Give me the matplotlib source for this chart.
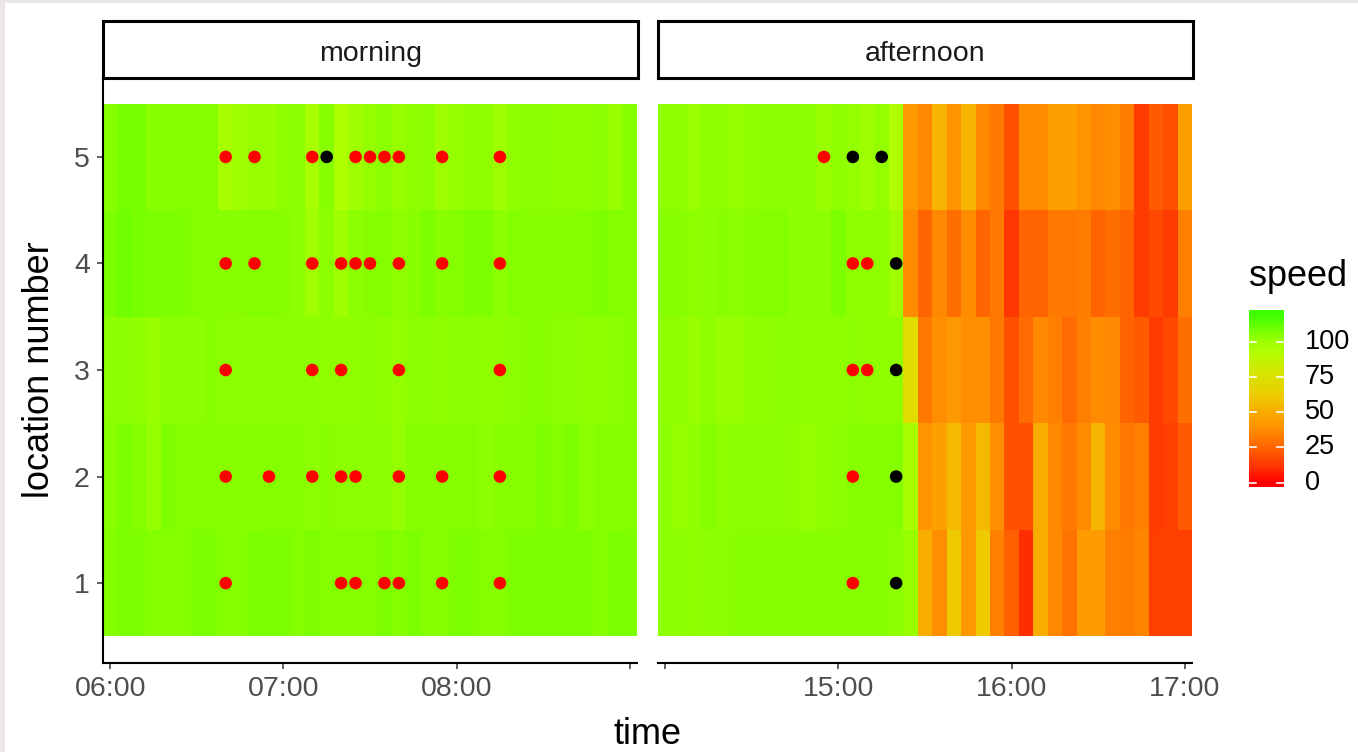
#!/usr/bin/env python3

"""Speed heatmap per location, morning vs afternoon"""

import matplotlib.pyplot as plt
import numpy as np
from matplotlib.colors import LinearSegmentedColormap, Normalize
from matplotlib.patches import Rectangle

# --- data -------------------------------------------------------------
locations = [1, 2, 3, 4, 5]
periods = ['morning', 'afternoon']
morning_start = '06:00'
afternoon_start = '14:00'
n_steps = 37            # 5 minute bins, start .. start + 3h
step_min = 5

# speed per location (rows: location 1..5), one value per 5 min bin
speed_morning = [
    [105.6, 106.4, 106.4, 105.6, 105.6, 105.6, 107.2, 106.4, 105.6, 105.6, 106.4, 106.4, 106.4,
     105.6, 106.4, 105.6, 105.6, 105.6, 105.6, 106.4, 105.6, 107.2, 105.6, 105.6, 106.4, 106.4,
     105.6, 105.6, 106.4, 106.4, 107.2, 107.2, 106.4, 106.4, 105.6, 106.4, 106.4],
    [104.8, 106.4, 105.6, 102.4, 106.4, 105.6, 105.6, 105.6, 104.8, 104.8, 104.8, 105.6, 105.6,
     105.6, 104.0, 104.8, 104.0, 104.0, 104.0, 104.0, 102.4, 104.8, 104.8, 104.8, 105.6, 105.6,
     104.0, 104.8, 105.6, 105.6, 106.4, 105.6, 106.4, 104.0, 105.6, 104.8, 105.6],
    [104.0, 104.0, 103.2, 101.6, 104.0, 104.0, 104.0, 104.8, 104.0, 104.0, 104.0, 104.0, 104.0,
     104.0, 104.0, 103.2, 103.2, 103.2, 104.0, 103.2, 102.4, 104.0, 104.0, 103.2, 104.0, 104.0,
     103.2, 103.2, 104.0, 104.8, 104.8, 104.0, 104.0, 103.2, 103.2, 104.0, 104.8],
    [107.2, 109.6, 108.0, 107.2, 107.2, 106.4, 105.6, 105.6, 104.8, 104.8, 105.6, 105.6, 104.8,
     104.0, 100.0, 104.0, 100.0, 104.0, 104.8, 105.6, 103.2, 104.8, 106.4, 104.8, 105.6, 106.4,
     106.4, 104.0, 105.6, 104.8, 104.8, 104.8, 104.8, 105.6, 106.4, 105.6, 105.6],
    [104.8, 108.0, 108.0, 104.8, 104.8, 105.6, 104.8, 105.6, 96.8, 100.0, 101.6, 101.6, 103.2,
     104.0, 96.8, 104.8, 93.6, 100.0, 102.4, 104.0, 101.6, 103.2, 104.0, 100.0, 102.4, 103.2,
     103.2, 100.0, 103.2, 104.0, 104.0, 103.2, 103.2, 103.2, 104.0, 101.6, 105.6],
]
speed_afternoon = [
    [104.0, 104.0, 103.2, 104.0, 104.0, 104.8, 104.8, 104.8, 104.8, 104.8, 104.8, 104.8, 104.8,
     105.6, 104.8, 104.8, 104.0, 101.6, 50.0, 38.7, 62.0, 41.7, 62.0, 33.5, 23.3, 10.0,
     50.0, 36.1, 29.6, 43.3, 43.3, 33.5, 32.2, 34.8, 14.3, 14.3, 14.3],
    [104.0, 102.4, 103.2, 105.6, 103.2, 104.0, 104.0, 104.0, 104.0, 103.2, 102.4, 103.2, 104.0,
     104.8, 104.8, 104.8, 105.6, 96.8, 40.0, 45.0, 55.0, 43.3, 55.0, 38.7, 18.8, 18.8,
     50.0, 36.1, 30.9, 37.4, 53.3, 37.4, 30.9, 33.5, 13.1, 14.3, 21.6],
    [103.2, 103.2, 101.6, 103.2, 101.6, 101.6, 103.2, 103.2, 104.0, 104.0, 103.2, 103.2, 103.2,
     104.0, 103.2, 103.2, 103.2, 72.0, 30.9, 38.7, 41.7, 38.7, 38.7, 30.9, 18.8, 27.0,
     36.1, 33.5, 27.0, 33.5, 37.4, 36.1, 24.4, 21.6, 13.1, 16.5, 28.3],
    [104.8, 104.8, 103.2, 104.0, 104.8, 104.0, 104.8, 105.6, 105.6, 104.0, 104.0, 104.0, 106.4,
     103.2, 103.2, 103.2, 100.0, 37.4, 25.0, 36.1, 28.3, 37.4, 25.0, 30.9, 12.0, 24.4,
     24.4, 30.9, 30.9, 32.2, 24.4, 28.3, 24.4, 13.1, 16.5, 13.1, 33.5],
    [103.2, 103.2, 100.8, 103.2, 103.2, 102.4, 103.2, 104.0, 104.0, 104.0, 104.0, 100.8, 103.2,
     102.4, 100.0, 102.4, 93.6, 41.7, 36.1, 53.3, 40.0, 53.3, 36.1, 30.9, 18.8, 37.4,
     37.4, 45.0, 45.0, 40.0, 36.1, 38.7, 32.2, 13.1, 21.6, 18.8, 45.0],
]

# event markers (time, location)
morning_red_time = ['06:40', '06:50', '07:10', '07:25', '07:30', '07:35', '07:40', '07:55', '08:15',
                    '06:40', '06:50', '07:10', '07:20', '07:25', '07:30', '07:40', '07:55', '08:15',
                    '06:40', '07:10', '07:20', '07:40', '08:15',
                    '06:40', '06:55', '07:10', '07:20', '07:25', '07:40', '07:55', '08:15',
                    '06:40', '07:20', '07:25', '07:35', '07:40', '07:55', '08:15']
morning_red_loc = [5] * 9 + [4] * 9 + [3] * 5 + [2] * 8 + [1] * 7
morning_black_time = ['07:15']
morning_black_loc = [5]
afternoon_red_time = ['14:55', '15:05', '15:10', '15:05', '15:10', '15:05', '15:05']
afternoon_red_loc = [5, 4, 4, 3, 3, 2, 1]
afternoon_black_time = ['15:05', '15:15', '15:20', '15:20', '15:20', '15:20']
afternoon_black_loc = [5, 5, 4, 3, 2, 1]

morning_ticks = ['06:00', '07:00', '08:00', '09:00']
morning_tick_lbls = ['06:00', '07:00', '08:00', '']
afternoon_ticks = ['14:00', '15:00', '16:00', '17:00']
afternoon_tick_lbls = ['', '15:00', '16:00', '17:00']
speed_breaks = [0, 25, 50, 75, 100]


def to_min(hhmm):
    """'HH:MM' -> minutes after midnight"""
    hh, mm = hhmm.split(':')
    return int(hh) * 60 + int(mm)


W, H = 1358, 752
plt.rcParams['font.family'] = ['Liberation Sans', 'DejaVu Sans']

# colour scale, red -> orange -> yellow -> green
VMAX = 119.4
anchors = [(0, '#ff0000'), (12, '#ff3800'), (25, '#ff6600'), (40, '#ff9400'), (50, '#f8ac00'),
           (62, '#edcc00'), (72, '#e0dc00'), (85, '#c8f000'), (92, '#b4ff00'), (100, '#a0ff00'),
           (VMAX, '#3fff00')]
cmap = LinearSegmentedColormap.from_list('speed', [(v / VMAX, c) for v, c in anchors])
norm = Normalize(vmin=0, vmax=VMAX)

fig = plt.figure(figsize=(W / 100, H / 100), dpi=100, facecolor='#ece7e7')
fig.patches.append(Rectangle((5 / W, 0), 1, 1 - 3 / H, transform=fig.transFigure,
                             facecolor='white', edgecolor='none', zorder=-1))

panel_top = 77
panel_bot = 663
panels = [
    (103, 637, morning_start, speed_morning, morning_red_time, morning_red_loc,
     morning_black_time, morning_black_loc, morning_ticks, morning_tick_lbls),
    (658, 1192, afternoon_start, speed_afternoon, afternoon_red_time, afternoon_red_loc,
     afternoon_black_time, afternoon_black_loc, afternoon_ticks, afternoon_tick_lbls),
]

for idx, (x0, x1, start, speed, rt, rl, bt, bl, ticks, tlbls) in enumerate(panels):
    ax = fig.add_axes([x0 / W, 1 - panel_bot / H, (x1 - x0) / W, (panel_bot - panel_top) / H])
    centers = to_min(start) + step_min * np.arange(n_steps)
    x_edges = np.append(centers - step_min / 2, centers[-1] + step_min / 2)
    y_edges = np.arange(0.5, len(locations) + 1, 1.0)
    ax.pcolormesh(x_edges, y_edges, np.array(speed), cmap=cmap, norm=norm,
                  shading='flat', edgecolors='none', linewidth=0, antialiased=False)
    ax.scatter([to_min(t) for t in rt], rl, s=82, color='#ff0000', edgecolors='none', zorder=3)
    ax.scatter([to_min(t) for t in bt], bl, s=82, color='black', edgecolors='none', zorder=3)

    ax.set_xlim(x_edges[0], x_edges[-1])
    ax.set_ylim(0.25, 5.75)
    ax.set_xticks([to_min(t) for t in ticks])
    ax.set_xticklabels(tlbls)
    ax.tick_params(axis='both', length=4.5, width=1.1, color='#333333', labelcolor='#4d4d4d',
                   labelsize=20.5, pad=5)
    for side in ['top', 'right']:
        ax.spines[side].set_visible(False)
    ax.spines['bottom'].set_linewidth(1.5)
    if idx == 0:
        ax.set_yticks(locations)
        ax.spines['left'].set_linewidth(1.5)
    else:
        ax.set_yticks([])
        ax.spines['left'].set_visible(False)

    # facet strip
    sx = fig.add_axes([x0 / W, 1 - 78 / H, (x1 - x0 + 1) / W, 57 / H])
    sx.set_xticks([])
    sx.set_yticks([])
    for sp in sx.spines.values():
        sp.set_linewidth(2.2)
        sp.set_color('black')
    sx.text(0.5, 0.42, periods[idx], ha='center', va='center', fontsize=20.5,
            color='#1a1a1a', transform=sx.transAxes)

fig.text(40 / W, 1 - 370 / H, 'location number', rotation=90, ha='center', va='center',
         fontsize=26)
fig.text(647 / W, 1 - 735 / H, 'time', ha='center', va='center', fontsize=26)

# colour bar (old ggplot style: half bin padding on both ends)
lo, hi = -3.1, 122.5
cax = fig.add_axes([1249 / W, 1 - 487 / H, 35 / W, 177 / H])
grad = np.linspace(hi, lo, 300).reshape(-1, 1)
cax.imshow(grad, cmap=cmap, norm=norm, aspect='auto', extent=[0, 1, lo, hi])
cax.set_xlim(0, 1)
cax.set_ylim(lo, hi)
cax.set_xticks([])
cax.set_yticks([])
for sp in cax.spines.values():
    sp.set_visible(False)
for b in speed_breaks:
    cax.plot([0, 0.2], [b, b], color='white', lw=1.2)
    cax.plot([0.8, 1], [b, b], color='white', lw=1.2)
    cax.text(1.6, b, str(b), ha='left', va='center', fontsize=19.5, color='black')
fig.text(1249 / W, 1 - 276 / H, 'speed', ha='left', va='center', fontsize=26)

fig.savefig('out.png', dpi=100, facecolor=fig.get_facecolor())
